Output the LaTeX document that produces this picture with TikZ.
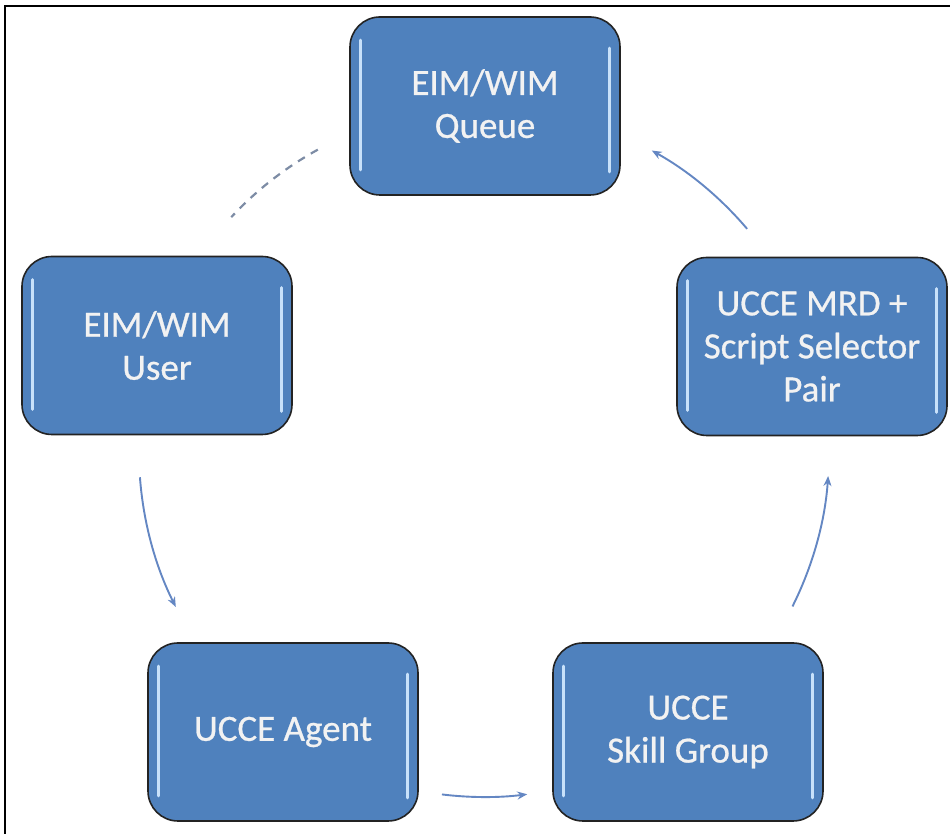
\documentclass[tikz,border=0pt]{standalone}
\usepackage{fontspec}
\setmainfont{Carlito}[FakeBold=0.7]
\usetikzlibrary{arrows.meta}
\definecolor{boxblue}{RGB}{79,129,189}
\definecolor{boxedge}{RGB}{35,35,35}
\definecolor{hilite}{RGB}{200,225,250}
\definecolor{arrowblue}{RGB}{100,135,195}
\definecolor{dashgray}{RGB}{125,140,165}
\tikzset{
  stepbox/.style={draw=boxedge, line width=1.6pt, fill=boxblue, rounded corners=30pt,
    minimum width=270pt, minimum height=178pt, text=white!95!black, align=center,
    font=\fontsize{37}{43}\selectfont, inner sep=0pt},
  hl/.style={draw=hilite, line width=3.2pt, line cap=round},
  flow/.style={draw=arrowblue, line width=1.9pt, -{Stealth[length=10pt,width=8pt]}},
  dashflow/.style={draw=dashgray, line width=2.2pt, dash pattern=on 8pt off 7pt},
  frameline/.style={draw=black, line width=2.2pt}
}
\newcommand{\boxhl}[1]{%
  \draw[hl] ([xshift=11pt,yshift=-24pt]#1.north west) -- ([xshift=11pt,yshift=26pt]#1.south west);
  \draw[hl] ([xshift=-11pt,yshift=-32pt]#1.north east) -- ([xshift=-11pt,yshift=24pt]#1.south east);
}
\begin{document}
\begin{tikzpicture}[x=1pt,y=1pt]
\useasboundingbox (0,0) rectangle (950,834);
\fill[white] (0,0) rectangle (950,834);
% frame
\coordinate (fTL) at (5,828);
\coordinate (fTR) at (950,828);
\coordinate (fBL) at (5,0);
\draw[frameline] (fTR) -- (fTL) -- (fBL);
% nodes
\node[stepbox] (queue) at (485,728) {EIM/WIM\\Queue};
\node[stepbox] (user)  at (157,488.5) {EIM/WIM\\User};
\node[stepbox] (mrd)   at (812,487.5) {UCCE MRD +\\Script Selector\\Pair};
\node[stepbox] (agent) at (283,102) {UCCE Agent};
\node[stepbox] (skill) at (688,102) {UCCE\\Skill Group};
\boxhl{queue}\boxhl{user}\boxhl{mrd}\boxhl{agent}\boxhl{skill}
% cycle centre
\coordinate (ctr) at (484,382);
% connectors (arcs of one circle)
\draw[flow] ([shift={(-26.6:345pt)}]ctr) arc[start angle=-26.6, end angle=-4, radius=345pt];
\draw[flow] ([shift={(40.3:345pt)}]ctr) arc[start angle=40.3, end angle=60.9, radius=345pt];
\draw[dashflow] ([shift={(118.8:345pt)}]ctr) arc[start angle=118.8, end angle=137.1, radius=345pt];
\draw[flow] ([shift={(184.2:345pt)}]ctr) arc[start angle=184.2, end angle=206.7, radius=345pt];
\draw[flow] ([shift={(263:345pt)}]ctr) arc[start angle=263, end angle=277.2, radius=345pt];
\end{tikzpicture}
\end{document}
